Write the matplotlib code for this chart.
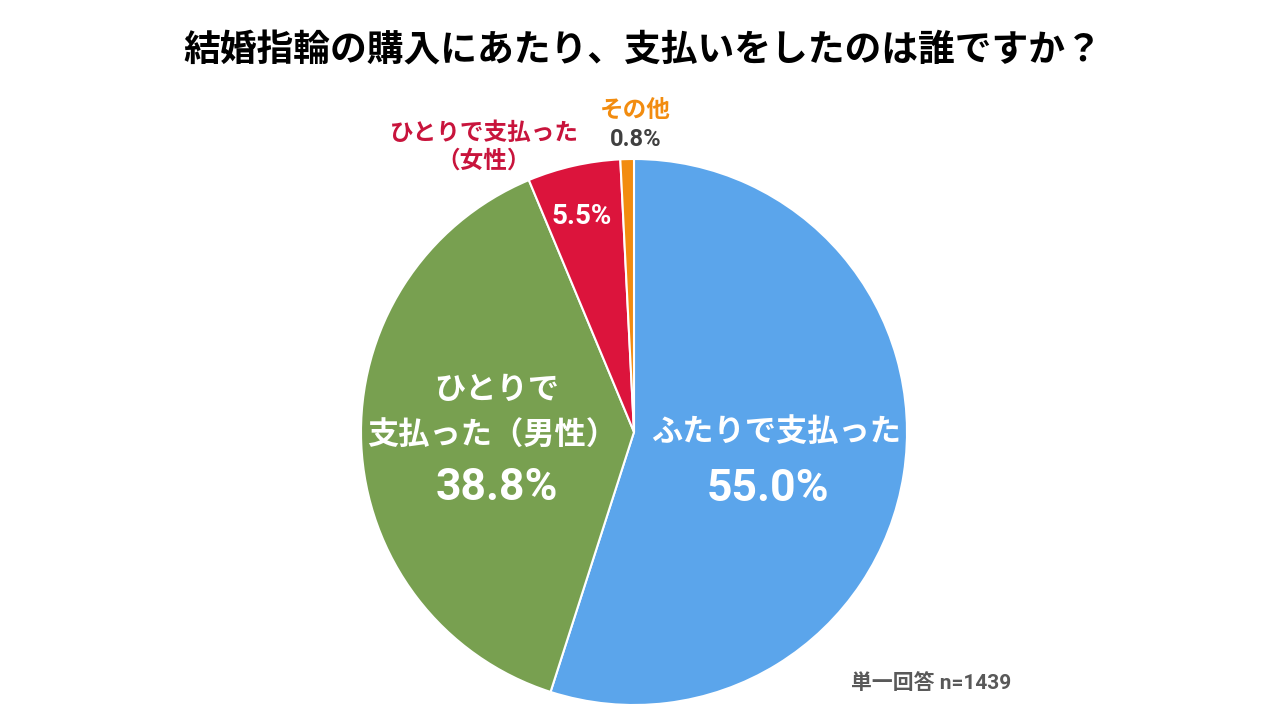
import matplotlib
matplotlib.use("Agg")
import matplotlib.pyplot as plt

plt.rcParams['font.family'] = ['Roboto', 'Noto Sans CJK JP', 'DejaVu Sans']

title = "結婚指輪の購入にあたり、支払いをしたのは誰ですか？"
labels = ["ふたりで支払った", "ひとりで\n支払った（男性）", "ひとりで支払った\n（女性）", "その他"]
values = [55.0, 38.8, 5.5, 0.8]
colors = ["#5BA5EB", "#78A050", "#DC143C", "#F28C0F"]
note = "単一回答 n=1439"

fig = plt.figure(figsize=(12.8, 7.2), dpi=100)
ax = fig.add_axes([0, 0, 1, 1])

cx, cy, r = 634, 720 - 432, 273
ax.pie(values, colors=colors, startangle=90, counterclock=False,
       center=(cx, cy), radius=r, frame=True,
       wedgeprops=dict(edgecolor="white", linewidth=1.5))
ax.set_xlim(0, 1280)
ax.set_ylim(0, 720)
ax.set_aspect("equal")
ax.axis("off")

def Y(p):
    return 720 - p

ax.text(643, Y(52), title, ha="center", va="center", fontsize=26.5, fontweight="bold", color="black")

# blue
ax.text(776, Y(432), labels[0], ha="center", va="center", fontsize=22.5, fontweight="bold", color="white")
ax.text(768, Y(489), f"{values[0]:.1f}%", ha="center", va="center", fontsize=32, fontweight="bold", color="white")

# green
l1, l2 = labels[1].split("\n")
ax.text(497, Y(390), l1, ha="center", va="center", fontsize=22.5, fontweight="bold", color="white")
ax.text(492, Y(436), l2, ha="center", va="center", fontsize=22.5, fontweight="bold", color="white")
ax.text(497, Y(488), f"{values[1]:.1f}%", ha="center", va="center", fontsize=32, fontweight="bold", color="white")

# red
ax.text(582, Y(216), f"{values[2]:.1f}%", ha="center", va="center", fontsize=20, fontweight="bold", color="white")
r1, r2 = labels[2].split("\n")
ax.text(484, Y(133), r1, ha="center", va="center", fontsize=17, fontweight="bold", color="#C8143C")
ax.text(484, Y(161), r2, ha="center", va="center", fontsize=17, fontweight="bold", color="#C8143C")

# orange
ax.text(635, Y(110), labels[3], ha="center", va="center", fontsize=17, fontweight="bold", color="#F28C0F")
ax.text(636, Y(140), f"{values[3]:.1f}%", ha="center", va="center", fontsize=17, fontweight="bold", color="#404040")

ax.text(931, Y(683), note, ha="center", va="center", fontsize=15, fontweight="bold", color="#595959")

fig.savefig("out.png", dpi=100, facecolor="white")
